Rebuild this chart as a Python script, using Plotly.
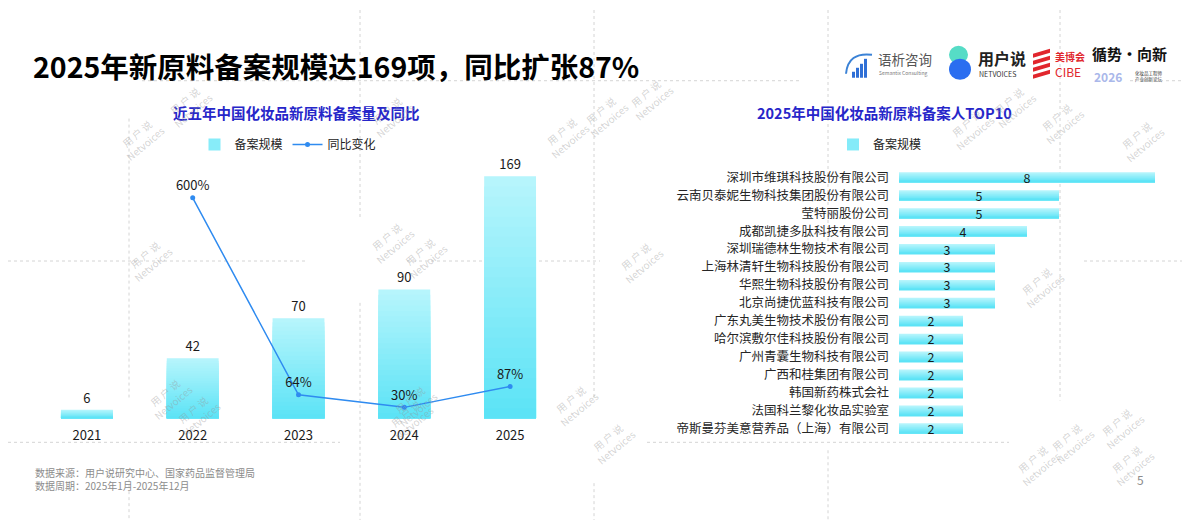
import plotly.graph_objects as go

# ---------------- data ----------------
years = ['2021', '2022', '2023', '2024', '2025']
filings = [6, 42, 70, 90, 169]
yoy_years = ['2022', '2023', '2024', '2025']
yoy_pct = [600, 64, 30, 87]

companies = [
    '深圳市维琪科技股份有限公司',
    '云南贝泰妮生物科技集团股份有限公司',
    '莹特丽股份公司',
    '成都凯捷多肽科技有限公司',
    '深圳瑞德林生物技术有限公司',
    '上海林清轩生物科技股份有限公司',
    '华熙生物科技股份有限公司',
    '北京尚捷优蓝科技有限公司',
    '广东丸美生物技术股份有限公司',
    '哈尔滨敷尔佳科技股份有限公司',
    '广州青囊生物科技有限公司',
    '广西和桂集团有限公司',
    '韩国新药株式会社',
    '法国科兰黎化妆品实验室',
    '帝斯曼芬美意营养品（上海）有限公司',
]
company_counts = [8, 5, 5, 4, 3, 3, 3, 3, 2, 2, 2, 2, 2, 2, 2]

FONT = 'Noto Sans CJK SC, Microsoft YaHei, sans-serif'
OFF = 8                      # page body margin
W, H = 1190 - OFF, 520 - OFF
TOP_C = (182, 245, 252)
BOT_C = (92, 227, 246)


def mix(t):
    r, g, b = (round(TOP_C[i] + (BOT_C[i] - TOP_C[i]) * t) for i in range(3))
    return f'rgb({r},{g},{b})'


def px(x):
    return (x - OFF) / W


def py(y):
    return 1 - (y - OFF) / H


fig = go.Figure()

# ---------------- left chart: bars with vertical gradient ----------------
N = 24
for k in range(N):
    frac = (N - k) / N
    fig.add_trace(go.Bar(
        x=years, y=[v * frac for v in filings], width=0.49,
        marker=dict(color=mix(k / (N - 1)), line=dict(width=0)),
        name='备案规模', legend='legend', legendgroup='lb',
        showlegend=(k == N // 2), hoverinfo='skip',
        xaxis='x', yaxis='y'))
fig.add_trace(go.Bar(
    x=years, y=filings, width=0.49,
    marker=dict(color='rgba(0,0,0,0)', line=dict(width=0)),
    text=[str(v) for v in filings], textposition='outside', cliponaxis=False,
    textangle=0,
    textfont=dict(size=13, color='#1a1a1a', family=FONT),
    showlegend=False, name='备案规模', xaxis='x', yaxis='y'))

fig.add_trace(go.Scatter(
    x=yoy_years, y=yoy_pct, yaxis='y2', xaxis='x',
    mode='lines+markers+text', name='同比变化', legend='legend',
    text=[f'{p}%' for p in yoy_pct], textposition='top center',
    textfont=dict(size=13, color='#1a1a1a', family=FONT),
    line=dict(color='#2F8BF0', width=1.5), marker=dict(size=5, color='#2F8BF0'),
    cliponaxis=False))

# ---------------- right chart: horizontal bars (vertical gradient) ----------------
M = 10
BW = 0.56
for k in range(M):
    wk = BW * (M - k) / M
    fig.add_trace(go.Bar(
        y=companies, x=company_counts, orientation='h',
        width=wk, offset=BW / 2 - wk,
        marker=dict(color=mix(k / (M - 1)), line=dict(width=0)),
        name='备案规模', legend='legend2', legendgroup='rb',
        showlegend=(k == M // 2), hoverinfo='skip',
        xaxis='x2', yaxis='y3'))
fig.add_trace(go.Bar(
    y=companies, x=company_counts, orientation='h', width=BW,
    marker=dict(color='rgba(0,0,0,0)', line=dict(width=0)),
    text=[str(v) for v in company_counts], textposition='inside',
    insidetextanchor='middle', constraintext='none', textangle=0,
    textfont=dict(size=12.5, color='#1a1a1a', family=FONT),
    showlegend=False, name='备案规模', xaxis='x2', yaxis='y3'))

# ---------------- decorations ----------------
shapes = []
dash_segments_v = [
    (129, 117, 397), (129, 473, 520), (360, 0, 217), (360, 302, 520),
    (594, 0, 400), (594, 483, 520), (828, 0, 250), (828, 450, 520),
    (1060, 0, 400),
]
dash_segments_h = [
    (79, 142, 800), (79, 1130, 1190), (260, 0, 307), (260, 407, 600),
    (260, 1084, 1190), (442, 0, 340), (442, 647, 1009),
]
for x, y0, y1 in dash_segments_v:
    shapes.append(dict(type='line', xref='paper', yref='paper', layer='below',
                       x0=px(x), x1=px(x), y0=py(max(y0, OFF)), y1=py(y1),
                       line=dict(color='#d4d4d4', width=1, dash='dot')))
for y, x0, x1 in dash_segments_h:
    shapes.append(dict(type='line', xref='paper', yref='paper', layer='below',
                       x0=px(max(x0, OFF)), x1=px(x1), y0=py(y), y1=py(y),
                       line=dict(color='#d4d4d4', width=1, dash='dot')))


def path(points):
    return 'M ' + ' L '.join(f'{px(x):.5f},{py(y):.5f}' for x, y in points) + ' Z'


# 语析 logo: bars + arc
for i, top in enumerate([70, 66, 62, 57]):
    x0 = 852 + i * 4
    shapes.append(dict(type='rect', xref='paper', yref='paper',
                       x0=px(x0), x1=px(x0 + 3), y0=py(76), y1=py(top),
                       fillcolor='#2f6fd6', line=dict(width=0)))
shapes.append(dict(type='path', xref='paper', yref='paper',
                   path=f'M {px(846):.5f},{py(72):.5f} Q {px(848):.5f},{py(50):.5f} {px(872):.5f},{py(53):.5f}',
                   line=dict(color='#3b82d6', width=2)))
# 用户说 logo: two blobs
shapes.append(dict(type='circle', xref='paper', yref='paper',
                   x0=px(949), x1=px(968), y0=py(44), y1=py(62),
                   fillcolor='#56dcc6', line=dict(width=0)))
shapes.append(dict(type='circle', xref='paper', yref='paper',
                   x0=px(949), x1=px(971), y0=py(57), y1=py(78),
                   fillcolor='#2b6ef0', line=dict(width=0)))
# CIBE logo: red stripes
for y in [47, 54, 61, 68]:
    shapes.append(dict(type='path', xref='paper', yref='paper',
                       path=path([(1033, y + 5), (1050, y), (1050, y + 4), (1033, y + 9)]),
                       fillcolor='#e1262d', line=dict(width=0)))

annotations = []


def ann(text, x, y, size, color='#1a1a1a', bold=False, xanchor='left', **kw):
    if bold:
        text = f'<b>{text}</b>'
    annotations.append(dict(text=text, x=px(x), y=py(y), xref='paper', yref='paper',
                            xanchor=xanchor, yanchor='middle', showarrow=False,
                            font=dict(size=size, color=color, family=FONT), **kw))


ann('2025年新原料备案规模达169项，同比扩张87%', 31, 64, 28.5, '#000000', bold=True)
ann('近五年中国化妆品新原料备案量及同比', 296, 111, 14.5, '#2626C9', bold=True, xanchor='center')
ann('2025年中国化妆品新原料备案人TOP10', 884, 111, 14.5, '#2626C9', bold=True, xanchor='center')
ann('数据来源：用户说研究中心、国家药品监督管理局', 33, 472, 10, '#8c8c8c')
ann('数据周期：2025年1月-2025年12月', 33, 485, 10, '#8c8c8c')
ann('5', 1140, 479, 12, '#8c8c8c', xanchor='center')

# logo texts
ann('语析咨询', 876, 57, 13.5, '#555555')
ann('Semantix Consulting', 877, 71.5, 5, '#777777')
ann('用户说', 976, 56, 16, '#222222', bold=True)
ann('NETVOICES', 977, 72.5, 7, '#333333')
ann('美博会', 1053, 55, 10, '#e1262d', bold=True)
ann('CIBE', 1053, 70, 12, '#e1262d')
ann('循势·向新', 1090, 52, 15, '#111111', bold=True)
ann('2026', 1092, 75, 12, '#aab8ea', bold=True)
ann('化妆品工程师<br>产业创新论坛', 1133, 75, 4.5, '#333333')

# watermarks
wm_pos = [(112, 108), (160, 75), (362, 85), (566, 106), (605, 85), (650, 68),
          (1000, 98), (1042, 76), (1090, 92), (1170, 110), (120, 258),
          (362, 240), (395, 255), (140, 425), (168, 442), (385, 432),
          (410, 446), (575, 432), (612, 470), (1070, 285), (1100, 470),
          (1066, 492), (1150, 455), (1160, 492), (640, 260)]
for x, y in wm_pos:
    annotations.append(dict(text='用 户 说<br>Netvoices', x=px(x), y=py(y),
                            xref='paper', yref='paper', showarrow=False,
                            textangle=-40,
                            font=dict(size=10, color='rgba(150,150,150,0.42)', family=FONT)))

fig.update_layout(
    width=W, height=H,
    margin=dict(l=0, r=0, t=0, b=0),
    paper_bgcolor='white', plot_bgcolor='rgba(0,0,0,0)',
    barmode='overlay',
    font=dict(family=FONT, color='#1a1a1a'),
    showlegend=True,
    xaxis=dict(domain=[px(34), px(563)], type='category', showgrid=False,
               zeroline=False, showline=False, ticks='', anchor='y',
               tickfont=dict(size=13, color='#1a1a1a'), ticklabelstandoff=8,
               fixedrange=True),
    yaxis=dict(domain=[py(418), py(160)], range=[0, 179.4], visible=False,
               fixedrange=True),
    yaxis2=dict(overlaying='y', range=[0, 699], visible=False, anchor='x'),
    xaxis2=dict(domain=[px(899), px(1171)], range=[0, 8.5], visible=False,
                anchor='y3'),
    yaxis3=dict(domain=[py(437), py(167)], type='category',
                range=[len(companies) - 0.5, -0.5], showgrid=False,
                zeroline=False, showline=False, ticks='', anchor='x2',
                tickfont=dict(size=12.5, color='#262626'), ticklabelstandoff=9),
    legend=dict(orientation='h', x=px(288), xanchor='center', y=py(143),
                yanchor='middle', font=dict(size=12, color='#222222'),
                bgcolor='rgba(0,0,0,0)', itemwidth=30, traceorder='normal'),
    legend2=dict(orientation='h', x=px(880), xanchor='center', y=py(143),
                 yanchor='middle', font=dict(size=12, color='#222222'),
                 bgcolor='rgba(0,0,0,0)', itemwidth=30),
    shapes=shapes,
    annotations=annotations,
)

fig.write_html('out.html')
